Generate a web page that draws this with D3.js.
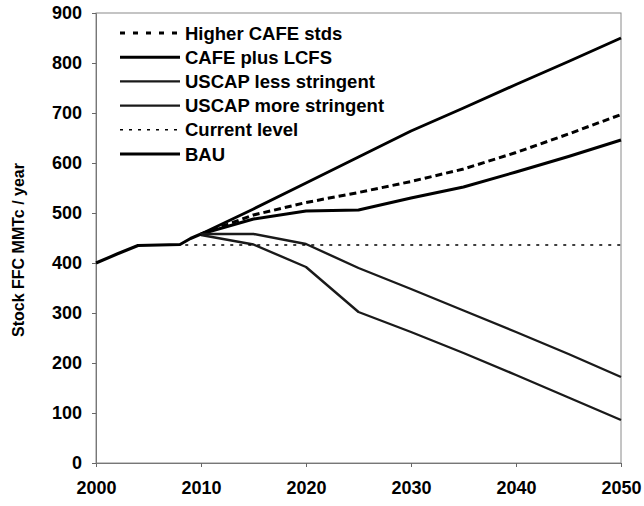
<!DOCTYPE html>
<html>
<head>
<meta charset="utf-8">
<script src="https://cdn.jsdelivr.net/npm/d3@7"></script>
<style>
  body { margin: 0; background: #fff; }
  svg { font-family: "Liberation Sans", Arial, sans-serif; font-weight: bold; }
</style>
</head>
<body>
<svg width="644" height="506"></svg>
<script>
// годы и значения
const histYears = [2000, 2002, 2004, 2008, 2009, 2010];
const histValues = [400, 418, 435, 437, 449, 458];

const years = [2010, 2015, 2020, 2025, 2030, 2035, 2040, 2045, 2050];
const bau = [458, 508, 560, 612, 664, 710, 757, 803, 850];
const cafeLcfs = [458, 488, 504, 506, 530, 552, 582, 613, 646];
const higherCafe = [458, 496, 521, 541, 563, 588, 621, 658, 697];
const uscapLess = [458, 458, 438, 390, 348, 305, 262, 218, 172];
const uscapMore = [456, 437, 392, 302, 262, 220, 176, 131, 86];

const currentYears = [2008.5, 2050];
const currentLevel = 436;

const yTicks = [0, 100, 200, 300, 400, 500, 600, 700, 800, 900];
const xTicks = [2000, 2010, 2020, 2030, 2040, 2050];

const legendNames = ["Higher CAFE stds", "CAFE plus LCFS", "USCAP less stringent",
  "USCAP more stringent", "Current level", "BAU"];

// стили линий
const styles = {
  "Higher CAFE stds": { w: 3, dash: "7,4", legDash: "5,8", color: "#000" },
  "CAFE plus LCFS": { w: 3, dash: null, color: "#000" },
  "USCAP less stringent": { w: 2.4, dash: null, color: "#1a1a1a" },
  "USCAP more stringent": { w: 2.4, dash: null, color: "#1a1a1a" },
  "Current level": { w: 1.6, dash: "3,6", color: "#000" },
  "BAU": { w: 3, dash: null, color: "#000" }
};

function drawGraph() {
  let svg = d3.select("svg");
  svg.selectAll('*').remove();

  attr_area = {
    left: 96,
    right: 621,
    top: 13,
    bottom: 463
  }

  const [scX, scY] = createAxis(svg, attr_area);

  let series = [
    { name: "BAU", pts: years.map((y, i) => [y, bau[i]]) },
    { name: "CAFE plus LCFS", pts: years.map((y, i) => [y, cafeLcfs[i]]) },
    { name: "Higher CAFE stds", pts: years.map((y, i) => [y, higherCafe[i]]) },
    { name: "USCAP less stringent", pts: years.map((y, i) => [y, uscapLess[i]]) },
    { name: "USCAP more stringent", pts: years.map((y, i) => [y, uscapMore[i]]) },
    { name: "Current level", pts: currentYears.map(y => [y, currentLevel]) }
  ];

  series.forEach(s => createChart(svg, s.pts, scX, scY, styles[s.name]));
  // общая история до 2010
  createChart(svg, histYears.map((y, i) => [y, histValues[i]]), scX, scY, { w: 3, dash: null, color: "#000" });

  createLegend(svg);
}

function createAxis(svg, a) {
  let scaleX = d3.scaleLinear()
    .domain([2000, 2050])
    .range([a.left, a.right]);

  let scaleY = d3.scaleLinear()
    .domain([0, 900])
    .range([a.bottom, a.top]);

  // рамка области графика
  svg.append("rect")
    .attr("x", a.left)
    .attr("y", a.top)
    .attr("width", a.right - a.left)
    .attr("height", a.bottom - a.top)
    .attr("fill", "none")
    .attr("stroke", "#8a8a8a")
    .attr("stroke-width", 1);

  let axisX = d3.axisBottom(scaleX).tickValues(xTicks).tickFormat(d3.format("d")).tickSize(4).tickPadding(14);
  let axisY = d3.axisLeft(scaleY).tickValues(yTicks).tickSize(4).tickPadding(10);

  let gx = svg.append("g")
    .attr("transform", `translate(0, ${a.bottom})`)
    .call(axisX);
  let gy = svg.append("g")
    .attr("transform", `translate(${a.left}, 0)`)
    .call(axisY);

  [gx, gy].forEach(g => {
    g.select(".domain").attr("stroke", "#777");
    g.selectAll(".tick line").attr("stroke", "#666");
    g.selectAll("text")
      .attr("fill", "#000")
      .style("font-size", "18px")
      .style("font-weight", "bold")
      .style("font-family", "'Liberation Sans', Arial, sans-serif");
  });

  svg.append("text")
    .attr("transform", `translate(24, ${(a.top + a.bottom) / 2 + 12}) rotate(-90)`)
    .attr("text-anchor", "middle")
    .style("font-size", "16px")
    .text("Stock FFC MMTc / year");

  return [scaleX, scaleY]
}

function createChart(svg, pts, scaleX, scaleY, st) {
  let line = d3.line()
    .x(d => scaleX(d[0]))
    .y(d => scaleY(d[1]));

  svg.append("path")
    .datum(pts)
    .attr("d", line)
    .attr("fill", "none")
    .attr("stroke", st.color)
    .attr("stroke-width", st.w)
    .attr("stroke-linejoin", "round")
    .attr("stroke-dasharray", st.dash);
}

function createLegend(svg) {
  const x1 = 120, x2 = 180, y0 = 33, step = 24.2;
  legendNames.forEach((name, i) => {
    const st = styles[name];
    const y = y0 + i * step;
    svg.append("line")
      .attr("x1", x1).attr("x2", x2)
      .attr("y1", y).attr("y2", y)
      .attr("stroke", st.color)
      .attr("stroke-width", st.w)
      .attr("stroke-dasharray", st.legDash || st.dash);
    svg.append("text")
      .attr("x", x2 + 5)
      .attr("y", y + 6.5)
      .style("font-size", "18.5px")
      .text(name);
  });
}

drawGraph();
</script>
</body>
</html>
